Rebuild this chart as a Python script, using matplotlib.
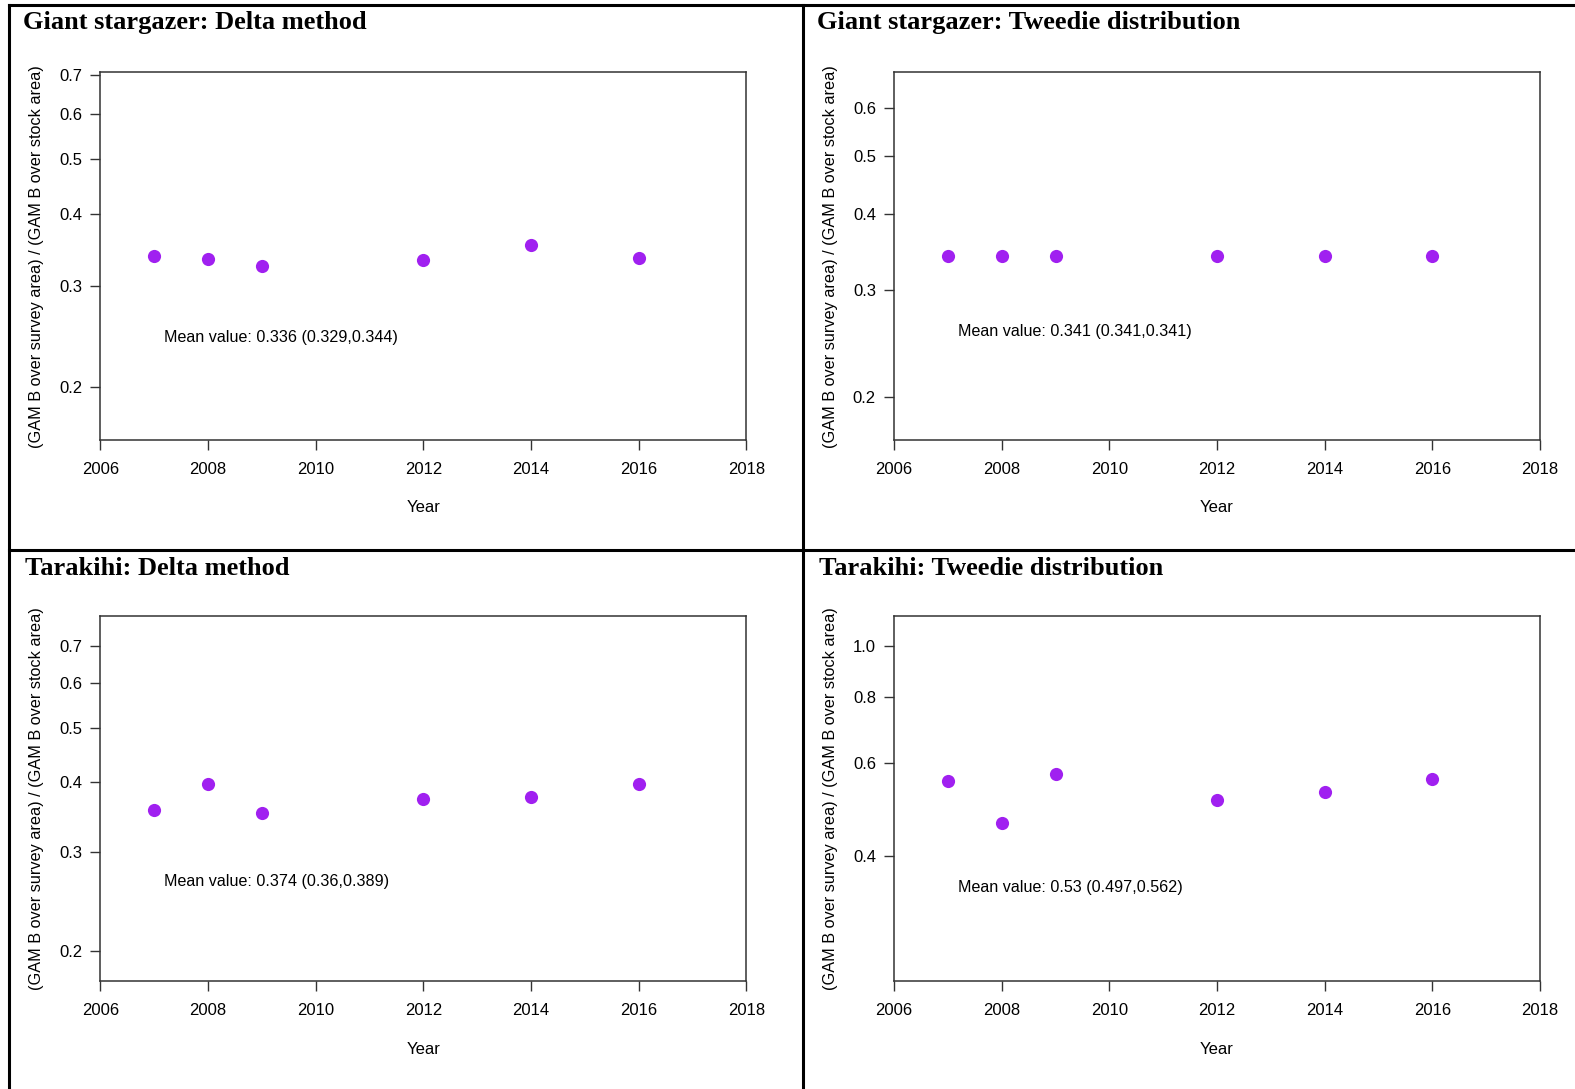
import numpy as np
import matplotlib.pyplot as plt
from matplotlib.lines import Line2D

plt.rcParams['font.family'] = ['Liberation Sans', 'DejaVu Sans']

# data
years = [2007, 2008, 2009, 2012, 2014, 2016]
gs_delta = [0.338, 0.334, 0.325, 0.333, 0.3535, 0.3354]
gs_tweedie = [0.341, 0.341, 0.341, 0.341, 0.341, 0.341]
tk_delta = [0.3576, 0.3964, 0.3532, 0.3742, 0.3773, 0.3964]
tk_tweedie = [0.5557, 0.4623, 0.5705, 0.5113, 0.5296, 0.5582]

titles = ["Giant stargazer: Delta method", "Giant stargazer: Tweedie distribution",
          "Tarakihi: Delta method", "Tarakihi: Tweedie distribution"]
mean_texts = ["Mean value: 0.336 (0.329,0.344)", "Mean value: 0.341 (0.341,0.341)",
              "Mean value: 0.374 (0.36,0.389)", "Mean value: 0.53 (0.497,0.562)"]
mean_text_y = [0.2436, 0.256, 0.2658, 0.3476]
yticks = [[0.2, 0.3, 0.4, 0.5, 0.6, 0.7],
          [0.2, 0.3, 0.4, 0.5, 0.6],
          [0.2, 0.3, 0.4, 0.5, 0.6, 0.7],
          [0.4, 0.6, 0.8, 1.0]]
ylims = [(0.1614, 0.7085), (0.1697, 0.686), (0.1767, 0.792), (0.2312, 1.1406)]
series = [gs_delta, gs_tweedie, tk_delta, tk_tweedie]

W, H = 1575, 1089
fig = plt.figure(figsize=(W / 100, H / 100), dpi=100)

# axes boxes in pixels: left, top, right, bottom
boxes = [(100.4, 72.3, 746.3, 440), (894, 72.3, 1540, 440),
         (100.4, 615.8, 746.3, 981.4), (894, 615.8, 1540, 981.4)]
title_pos = [(23, 23), (816.7, 23), (25, 568.5), (818.7, 568.5)]

for i in range(4):
    l, t, r, b = boxes[i]
    ax = fig.add_axes([l / W, 1 - b / H, (r - l) / W, (b - t) / H])
    ax.scatter(years, series[i], s=90, color='#A020F0', zorder=3, linewidths=0)
    ax.set_yscale('log')
    ax.set_xlim(2006, 2018)
    ax.set_ylim(*ylims[i])
    ax.set_xticks(range(2006, 2019, 2))
    ax.set_yticks(yticks[i])
    ax.set_yticklabels([f"{v:.1f}" for v in yticks[i]])
    ax.yaxis.set_minor_locator(plt.NullLocator())
    ax.tick_params(axis='both', direction='out', length=7, width=1,
                   color='#333333', labelsize=12)
    ax.tick_params(axis='x', pad=8.5)
    ax.tick_params(axis='y', pad=6)
    for sp in ax.spines.values():
        sp.set_color('#333333')
        sp.set_linewidth(1.1)
    ax.set_xlabel("Year", fontsize=12, labelpad=17)
    ax.set_ylabel("(GAM B over survey area) / (GAM B over stock area)", fontsize=11.7, labelpad=11)
    ax.text(2007.18, mean_text_y[i], mean_texts[i], fontsize=11.6, ha='left', va='center')
    tx, ty = title_pos[i]
    fig.text(tx / W, 1 - ty / H, titles[i], family='Liberation Serif', weight='bold',
             fontsize=19, ha='left', va='center')

# outer frame lines
lw = 2.2
fig.add_artist(Line2D([9 / W, 9 / W], [0, 1 - 5 / H], color='black', lw=lw))
fig.add_artist(Line2D([9 / W, 1], [1 - 5 / H, 1 - 5 / H], color='black', lw=lw))
fig.add_artist(Line2D([9 / W, 1], [1 - 550 / H, 1 - 550 / H], color='black', lw=lw))
fig.add_artist(Line2D([802.6 / W, 802.6 / W], [0, 1 - 5 / H], color='black', lw=lw))

fig.savefig("out.png", dpi=100)
